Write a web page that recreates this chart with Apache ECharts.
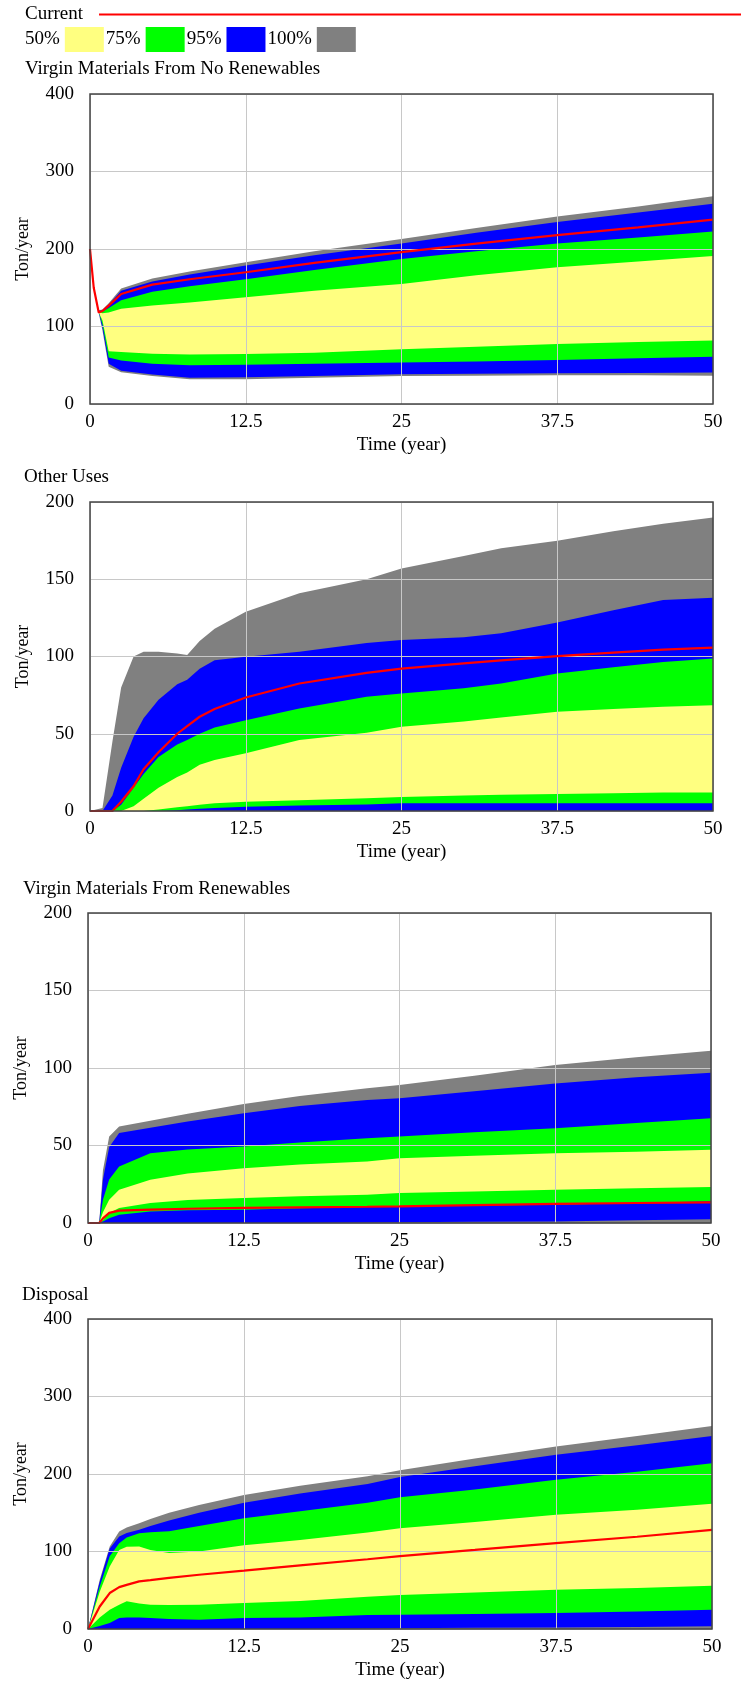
<!DOCTYPE html>
<html lang="en">
<head>
<meta charset="utf-8">
<title>Sensitivity runs</title>
<script src="https://cdn.jsdelivr.net/npm/echarts@6/dist/echarts.min.js"></script>
<style>
  html, body { margin: 0; padding: 0; background: #fff; }
  #main { width: 741px; height: 1684px; }
</style>
</head>
<body>
<div id="main"></div>
<script>
// ---- data (Ton/year over Time in years) ----
// each panel: min, 2.5%, 12.5%, 25%, 75%, 87.5%, 97.5%, max and the Current run

// Virgin Materials From No Renewables
var noRenTime    = [0, 0.3, 0.7, 1, 1.5, 2.5, 5, 8, 12.5, 18, 25, 31, 37.5, 44, 50];
var noRenMin     = [200, 150, 117, 95, 48, 41, 36, 32, 32, 34, 36, 36.5, 37, 37, 36.5];
var noRenP2      = [200, 150, 117, 98, 52, 43, 38, 34, 34.5, 36, 38.4, 39, 39.6, 40, 40.8];
var noRenP12     = [200, 150, 118, 103, 60, 56, 52, 50, 50.5, 52, 53.5, 55, 56.8, 59, 61];
var noRenP25     = [200, 150, 118, 108, 68, 67, 65, 64, 64.5, 66, 70.7, 74, 77.5, 80, 82];
var noRenP75     = [200, 151, 119, 117, 118, 123, 127, 131, 137.6, 146, 155, 166, 176.6, 184, 191];
var noRenP87     = [200, 151, 119, 119, 124, 134, 145, 152, 161, 173, 187, 197, 207, 215, 222.5];
var noRenP97     = [200, 152, 120, 121, 128, 146, 158, 167, 178.6, 192, 207, 221, 235, 247, 258.5];
var noRenMax     = [200, 152, 121, 122, 130, 149, 162, 171, 183, 197, 213, 227, 242, 255, 268];
var noRenCurrent = [200, 150, 118, 120, 127, 142, 154, 161, 170, 182, 196, 207, 218, 228, 238];

// Other Uses
var otherTime    = [0, 1, 1.8, 2.5, 3.5, 4.3, 5.5, 7, 7.8, 8.8, 10, 12.5, 16.8, 22.2, 25, 30, 33, 37.5, 42, 46, 50];
var otherMin     = [0, 0, 0, 0, 0, 0, 0, 0, 0, 0, 0, 0, 0, 0, 0, 0, 0, 0, 0, 0, 0];
var otherP2      = [0, 0, 0, 0, 0, 0, 0, 0, 0, 0, 0, 0, 0, 0, 0, 0, 0, 0, 0, 0, 0];
var otherP12     = [0, 0, 0, 0, 0, 0, 0, 0.5, 1, 1.5, 2, 2.8, 3.5, 4.2, 5, 5, 5, 5, 5, 5, 5];
var otherP25     = [0, 0, 0, 0, 0, 0, 1, 2.5, 3, 4, 5, 6, 7, 8.2, 9, 10, 10.5, 11, 11.5, 12, 12];
var otherP75     = [0, 0, 0, 0, 3, 8, 15, 22, 25, 30, 33, 37.3, 45.9, 50.6, 54.5, 58, 60.5, 64.2, 66, 67.5, 68.5];
var otherP87     = [0, 0, 0, 4, 15, 24, 35, 43, 46, 50, 54, 58.8, 66.4, 74, 76, 79.5, 82.5, 89, 93, 96.5, 98.7];
var otherP97     = [0, 0, 10, 28, 48, 60, 72, 82, 85, 92, 97.6, 99.8, 103, 108.8, 110.6, 112.5, 115, 122, 130, 136.5, 138];
var otherMax     = [0, 2, 45, 80, 100, 103, 103, 102, 101, 110, 118, 129, 141, 150, 157, 165, 170, 175, 181, 186, 190];
var otherCurrent = [0, 0, 0, 6, 16, 27, 38, 50, 55, 61, 66, 73.5, 82.5, 89.4, 92.2, 95.5, 97.5, 100.2, 102.5, 104.5, 105.8];

// Virgin Materials From Renewables
var renTime    = [0, 0.9, 1.2, 1.7, 2.5, 5, 8, 12.5, 17, 22.4, 25, 31, 37.5, 44, 50];
var renMin     = [0, 0, 0, 0, 0, 0, 0, 0, 0, 0, 0, 0, 0, 0, 0];
var renP2      = [0, 0, 0, 0, 0, 0, 0, 0, 0, 0.3, 0.5, 0.8, 1, 1.8, 2.5];
var renP12     = [0, 0, 1, 3, 5.4, 7.5, 8.2, 8.6, 9.5, 10.3, 10.7, 11.3, 11.8, 12.9, 14];
var renP25     = [0, 0, 2, 6.4, 9.7, 12.9, 14.8, 16.1, 17.2, 18.2, 19.3, 20.4, 21.5, 22.4, 23.2];
var renP75     = [0, 0, 7, 15, 21.5, 27.9, 32, 35.4, 37.8, 39.7, 41.8, 43.4, 45, 46, 47.2];
var renP87     = [0, 0, 15, 28, 36.5, 45, 47.5, 49.4, 52, 54.7, 55.8, 58.5, 61.2, 64.5, 67.6];
var renP97     = [0, 0, 28, 49, 58, 61.5, 65.5, 70.8, 75.5, 79.4, 80.5, 85, 90, 94, 97];
var renMax     = [0, 0, 34, 55.8, 62.2, 66, 70.5, 76.8, 82, 86.9, 89, 95, 102, 107, 111.2];
var renCurrent = [0, 0, 3, 6.5, 8, 8.6, 9.2, 9.7, 10.1, 10.5, 10.7, 11.5, 12.4, 12.9, 13.3];

// Disposal
var dispTime    = [0, 0.94, 1.74, 2.5, 3.1, 4.1, 5, 6.5, 8.9, 12.5, 17, 22.4, 25, 31, 37.5, 44, 50];
var dispMin     = [0, 0, 0, 0, 0, 0, 0, 0, 0, 0, 0, 0, 0, 0, 0, 0, 0];
var dispP2      = [0, 0, 0, 0, 0, 0, 0, 0, 0, 0, 0, 0.5, 1, 1.5, 2, 2.5, 3.4];
var dispP12     = [0, 4, 7.7, 14.2, 15, 15, 14.2, 13, 12, 14.2, 15, 18, 18.5, 19.5, 20.6, 22.5, 25];
var dispP25     = [0, 15, 25, 31.4, 35.7, 33, 31.4, 31, 31.4, 33.5, 36, 41.5, 44, 47, 50.7, 53, 55.8];
var dispP75     = [0, 48, 80.8, 102, 106, 106.5, 102, 98, 100, 108, 115, 124.5, 130, 138, 147.3, 154, 161.5];
var dispP87     = [0, 55, 94, 110.8, 118, 123.7, 125, 126, 133, 143, 152, 163, 170, 180, 192.5, 203, 214];
var dispP97     = [0, 61, 104, 119.4, 124, 128, 133, 140, 150, 163, 175, 187, 196, 210, 224.7, 237, 249];
var dispMax     = [0, 63.6, 106.5, 125.9, 131, 136.6, 142, 150, 160, 173, 185, 197, 205, 220, 235.4, 249, 262];
var dispCurrent = [0, 29, 46.4, 54, 57, 61.4, 63, 66, 70, 75.2, 82, 90, 94, 102, 110.8, 119, 128];

var panelTitles = ['Virgin Materials From No Renewables', 'Other Uses', 'Virgin Materials From Renewables', 'Disposal'];
var legendNames = ['50%', '75%', '95%', '100%'];

// ---- chart ----
var YELLOW = '#ffff80', GREEN = '#00ff00', BLUE = '#0000ff', GRAY = '#808080', RED = '#ff0000';
var FONT = "'Liberation Serif', 'Times New Roman', serif";

// bands are painted from the top bound down, each filled to zero,
// so the next one covers the part below it (min is painted white)
var paintNames = ['100%', '95%', '75%', '50%', '75%', '95%', '100%', 'min'];
var paintColors = [GRAY, BLUE, GREEN, YELLOW, GREEN, BLUE, GRAY, '#ffffff'];

var panels = [
  { time: noRenTime, yMax: 400, yStep: 100, cur: noRenCurrent,
    bounds: [noRenMax, noRenP97, noRenP87, noRenP75, noRenP25, noRenP12, noRenP2, noRenMin] },
  { time: otherTime, yMax: 200, yStep: 50, cur: otherCurrent,
    bounds: [otherMax, otherP97, otherP87, otherP75, otherP25, otherP12, otherP2, otherMin] },
  { time: renTime, yMax: 200, yStep: 50, cur: renCurrent,
    bounds: [renMax, renP97, renP87, renP75, renP25, renP12, renP2, renMin] },
  { time: dispTime, yMax: 400, yStep: 100, cur: dispCurrent,
    bounds: [dispMax, dispP97, dispP87, dispP75, dispP25, dispP12, dispP2, dispMin] }
];

var gridBox = [
  { left: 90, top: 94, width: 623, height: 310 },
  { left: 90, top: 502, width: 623, height: 309 },
  { left: 88, top: 913, width: 623, height: 310 },
  { left: 88, top: 1319, width: 624, height: 310 }
];
var titleLeft = [25, 24, 23, 22];
var titleTop = [60, 468, 880, 1286];

function pairs(t, vals) {
  return t.map(function (x, k) { return [x, vals[k]]; });
}

var grids = [], xAxes = [], yAxes = [], series = [], titles = [];

panels.forEach(function (p, i) {
  grids.push({
    left: gridBox[i].left, top: gridBox[i].top,
    width: gridBox[i].width, height: gridBox[i].height,
    show: true, borderColor: '#444', borderWidth: 1.5,
    backgroundColor: 'transparent', z: 5
  });
  xAxes.push({
    gridIndex: i, type: 'value', min: 0, max: 50, interval: 12.5, z: 3,
    axisLine: { show: false }, axisTick: { show: false },
    axisLabel: { color: '#000', fontFamily: FONT, fontSize: 19, margin: 9 },
    splitLine: { show: true, lineStyle: { color: '#c8c8c8', width: 1 } },
    name: 'Time (year)', nameLocation: 'middle', nameGap: 32,
    nameTextStyle: { color: '#000', fontFamily: FONT, fontSize: 19 }
  });
  yAxes.push({
    gridIndex: i, type: 'value', min: 0, max: p.yMax, interval: p.yStep, z: 3,
    axisLine: { show: false }, axisTick: { show: false },
    axisLabel: { color: '#000', fontFamily: FONT, fontSize: 19, margin: 16 },
    splitLine: { show: true, lineStyle: { color: '#c8c8c8', width: 1 } },
    name: 'Ton/year', nameLocation: 'middle', nameRotate: 90, nameGap: 58,
    nameTextStyle: { color: '#000', fontFamily: FONT, fontSize: 18 }
  });
  titles.push({
    text: panelTitles[i], left: titleLeft[i], top: titleTop[i], padding: 0,
    textStyle: { color: '#000', fontFamily: FONT, fontSize: 19, fontWeight: 'normal' }
  });

  for (var b = 0; b < 8; b++) {
    series.push({
      name: paintNames[b], type: 'line', xAxisIndex: i, yAxisIndex: i,
      data: pairs(p.time, p.bounds[b]),
      showSymbol: false, silent: true,
      itemStyle: { color: paintColors[b] },
      lineStyle: { width: 0, opacity: 0 },
      areaStyle: { color: paintColors[b], opacity: 1, origin: 'start' },
      z: 2
    });
  }
  series.push({
    name: 'Current', type: 'line', xAxisIndex: i, yAxisIndex: i,
    data: pairs(p.time, p.cur), showSymbol: false, silent: true,
    itemStyle: { color: RED },
    lineStyle: { color: RED, width: 2.2 },
    z: 4
  });
});

var chart = echarts.init(document.getElementById('main'), null, { renderer: 'canvas' });
chart.setOption({
  backgroundColor: '#fff',
  animation: false,
  title: titles,
  legend: [
    {
      data: ['Current'], left: 25, top: 5, padding: 0, align: 'right', orient: 'horizontal',
      icon: 'rect', itemWidth: 643, itemHeight: 2, selectedMode: false,
      textStyle: { color: '#000', fontFamily: FONT, fontSize: 19, padding: [0, 11, 0, 0] }
    },
    {
      data: legendNames, left: 25, top: 27, padding: 0, align: 'right', orient: 'horizontal',
      icon: 'rect', itemWidth: 39, itemHeight: 25, itemGap: 2, selectedMode: false,
      textStyle: { color: '#000', fontFamily: FONT, fontSize: 19 }
    }
  ],
  grid: grids,
  xAxis: xAxes,
  yAxis: yAxes,
  series: series
});
</script>
</body>
</html>
